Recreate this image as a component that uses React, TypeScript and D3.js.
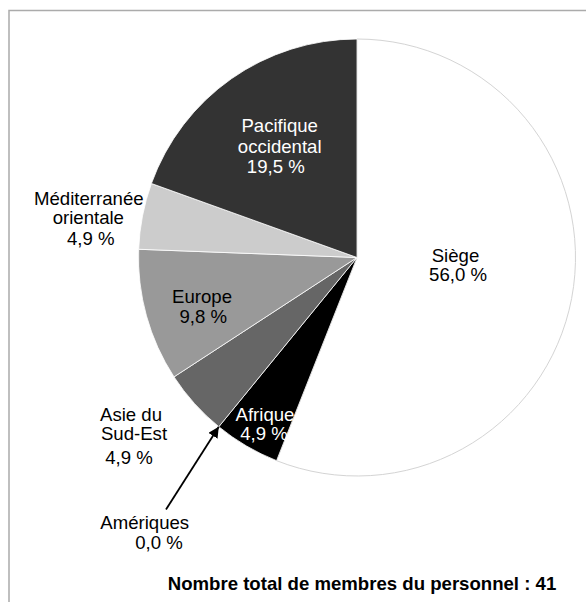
import React from "react";
import * as d3 from "d3";

const categories = [
  "Siège",
  "Afrique",
  "Amériques",
  "Asie du Sud-Est",
  "Europe",
  "Méditerranée orientale",
  "Pacifique occidental",
];
const values = [56.0, 4.9, 0.0, 4.9, 9.8, 4.9, 19.5];
const valueLabels = ["56,0 %", "4,9 %", "0,0 %", "4,9 %", "9,8 %", "4,9 %", "19,5 %"];
const nameLines = [
  ["Siège"],
  ["Afrique"],
  ["Amériques"],
  ["Asie du", "Sud-Est"],
  ["Europe"],
  ["Méditerranée", "orientale"],
  ["Pacifique", "occidental"],
];
const fills = ["#ffffff", "#000000", "#808080", "#666666", "#999999", "#cccccc", "#333333"];
const textColors = ["#000", "#fff", "#000", "#000", "#000", "#000", "#fff"];
const totalLabel = "Nombre total de membres du personnel : 41";

const W = 586;
const H = 602;
const CX = 357;
const CY = 257.5;
const R = 218.5;
const FONT = "'Liberation Sans', Arial, Helvetica, sans-serif";
const FS = 18.6;

// label layout: per category, per line [dx, dy] of text centre/baseline relative to pie centre
const labelLayout: [number, number][][] = [
  [[98.5, 4.2], [101, 23.2]],
  [[-92, 163.2], [-93, 182.5]],
  [[-212.3, 271.5], [-198, 291.5]],
  [[-226, 163.2], [-223, 182.5], [-228, 206.5]],
  [[-155, 45.2], [-153.7, 65]],
  [[-268.2, -52.5], [-268.7, -33.2], [-266.3, -12.5]],
  [[-77.3, -125.2], [-77.3, -104.2], [-81.2, -84.2]],
];
const arrowTail: [number, number] = [-191, 252];

export default function App() {
  const pie = d3
    .pie<number>()
    .sort(null)
    .value((d) => d)
    .startAngle(0)
    .endAngle(2 * Math.PI);
  const arcs = pie(values);
  const arc = d3.arc<d3.PieArcDatum<number>>().innerRadius(0).outerRadius(R);

  const am = arcs[2];
  const tipX = R * Math.sin(am.startAngle);
  const tipY = -R * Math.cos(am.startAngle);

  return (
    <svg
      width={W}
      height={H}
      style={{ position: "absolute", left: 0, top: 0, background: "#fff" }}
      fontFamily={FONT}
    >
      <defs>
        <marker
          id="arrowhead"
          viewBox="0 0 10 10"
          refX="10"
          refY="5"
          markerWidth="6"
          markerHeight="6"
          markerUnits="strokeWidth"
          orient="auto"
        >
          <path d="M0,0 L10,5 L0,10 z" fill="#000" />
        </marker>
      </defs>
      <rect x={9} y={10.5} width={700} height={700} fill="none" stroke="#ababab" strokeWidth={1.5} />
      <g transform={`translate(${CX},${CY})`}>
        {arcs.map((a, i) =>
          a.endAngle - a.startAngle > 0 ? (
            <path
              key={categories[i]}
              d={arc(a) || ""}
              fill={fills[i]}
              stroke={i === 0 ? "#d4d4d4" : "#ffffff"}
              strokeWidth={i === 0 ? 1 : 0.8}
            />
          ) : null
        )}
        <line
          x1={arrowTail[0]}
          y1={arrowTail[1]}
          x2={tipX}
          y2={tipY}
          stroke="#000"
          strokeWidth={1.8}
          markerEnd="url(#arrowhead)"
        />
        {categories.map((c, i) => {
          const lines = [...nameLines[i], valueLabels[i]];
          return (
            <g key={c}>
              {lines.map((t, j) => (
                <text
                  key={j}
                  x={labelLayout[i][j][0]}
                  y={labelLayout[i][j][1]}
                  textAnchor="middle"
                  fontSize={FS}
                  fill={textColors[i]}
                >
                  {t}
                </text>
              ))}
            </g>
          );
        })}
      </g>
      <text x={362} y={590} textAnchor="middle" fontSize={FS} fontWeight="bold" fill="#000">
        {totalLabel}
      </text>
    </svg>
  );
}
